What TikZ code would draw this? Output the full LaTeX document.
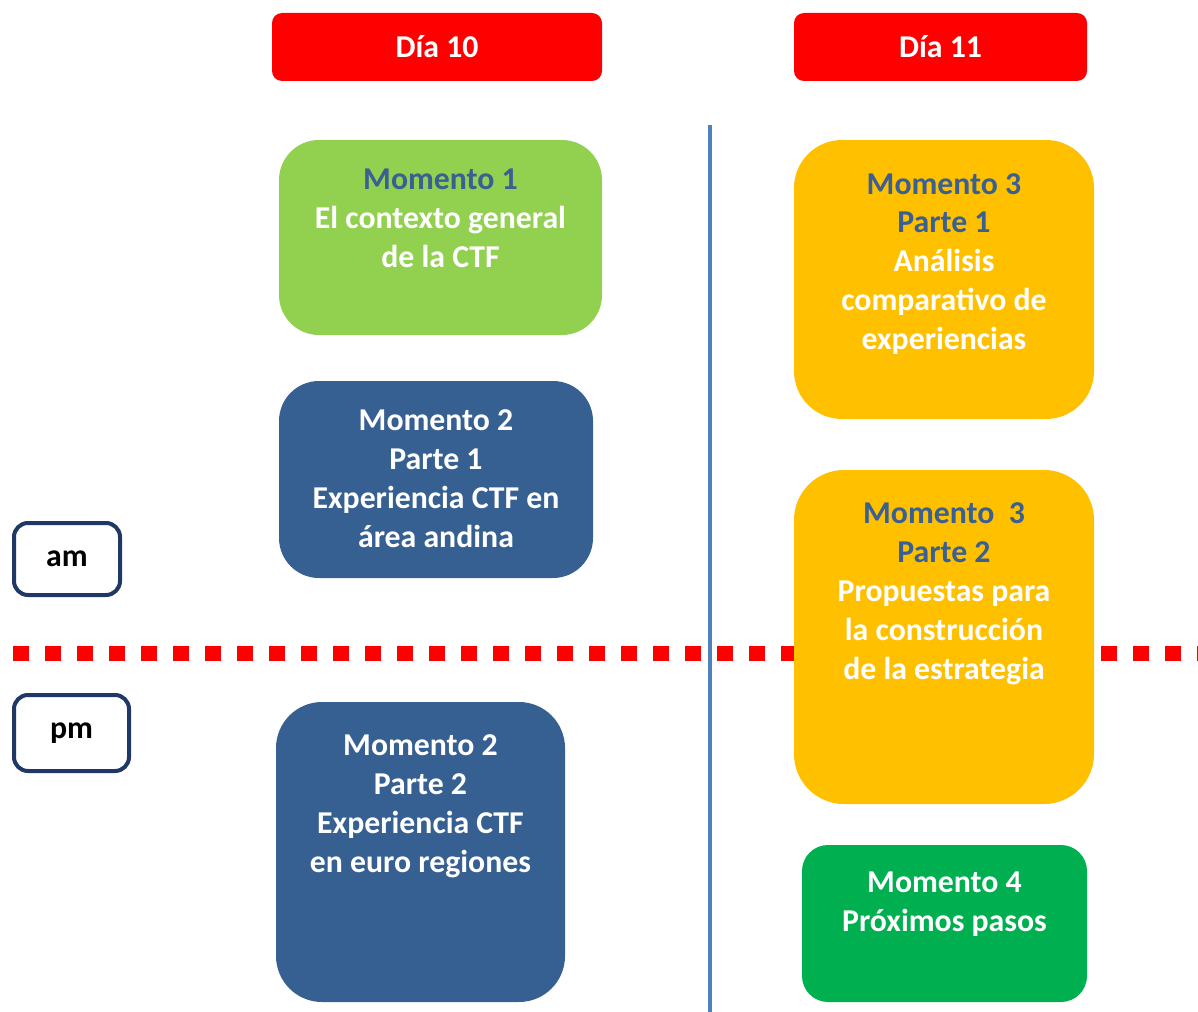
\documentclass[tikz,border=0pt]{standalone}
\usepackage{fontspec}
\setmainfont{Carlito}
\usepackage{xcolor}
\usepackage{tikz}
\usetikzlibrary{arrows.meta, positioning, calc}

\definecolor{dayred}{HTML}{FF0000}
\definecolor{lightgreen}{HTML}{92D050}
\definecolor{darkblue}{HTML}{376092}
\definecolor{gold}{HTML}{FFC000}
\definecolor{deepgreen}{HTML}{00B050}
\definecolor{navy}{HTML}{1F3864}
\definecolor{axisblue}{HTML}{4F81BD}
\definecolor{titleblue}{HTML}{3A5F93}

\newlength\pxu
\setlength\pxu{0.025cm}

\begin{document}
\begin{tikzpicture}[
    x=0.025cm, y=-0.025cm,
    daybox/.style={rectangle, rounded corners=10\pxu, fill=dayred, draw=none,
                   minimum height=68\pxu, text=white,
                   font=\fontsize{22.6}{27.7}\selectfont\bfseries},
    block/.style={rectangle, draw=none, inner sep=0pt},
    blocktext/.style={align=center, text=white, inner sep=0pt,
                      font=\fontsize{22.6}{27.7}\selectfont\bfseries},
    slot/.style={rectangle, rounded corners=14\pxu, draw=navy, line width=4\pxu,
                 fill=white, text=black,
                 font=\fontsize{22.6}{27.7}\selectfont\bfseries},
]
\useasboundingbox (0,0) rectangle (1198,1012);

% Day headers
\node[daybox, minimum width=330\pxu] (d10) at (437,47) {Día 10};
\node[daybox, minimum width=293\pxu] (d11) at (940.5,47) {Día 11};

% Morning / afternoon separator
\coordinate (sepL) at (13,653);
\coordinate (sepR) at (1198,653);
\draw[dayred, line width=15\pxu, dash pattern=on 16\pxu off 16\pxu] (sepL) -- (sepR);

% Day divider
\coordinate (divT) at (710,125);
\coordinate (divB) at (710,1012);
\draw[axisblue, line width=4\pxu] (divT) -- (divB);

% Momento 1
\node[block, fill=lightgreen, rounded corners=40\pxu,
      minimum width=323\pxu, minimum height=195\pxu] (m1) at (440.5,237.5) {};
\node[blocktext] (m1t) at ([yshift=19\pxu]m1.center) {
    \textcolor{titleblue}{Momento 1}\\
    El contexto general\\
    de la CTF
};

% Momento 2 - Parte 1
\node[block, fill=darkblue, rounded corners=40\pxu,
      minimum width=314\pxu, minimum height=197\pxu] (m2a) at (436,479.5) {};
\node[blocktext] (m2at) at ([yshift=1\pxu]m2a.center) {
    Momento 2\\
    Parte 1\\
    Experiencia CTF en\\
    área andina
};

% Momento 2 - Parte 2
\node[block, fill=darkblue, rounded corners=46\pxu,
      minimum width=289\pxu, minimum height=300\pxu] (m2b) at (420.5,852) {};
\node[blocktext] (m2bt) at ([yshift=45.5\pxu]m2b.center) {
    Momento 2\\
    Parte 2\\
    Experiencia CTF\\
    en euro regiones
};

% Momento 3 - Parte 1
\node[block, fill=gold, rounded corners=48\pxu,
      minimum width=300\pxu, minimum height=279\pxu] (m3a) at (944,279.5) {};
\node[blocktext] (m3at) at ([yshift=15.5\pxu]m3a.center) {
    \textcolor{titleblue}{Momento 3}\\
    \textcolor{titleblue}{Parte 1}\\
    Análisis\\
    comparativo de\\
    experiencias
};

% Momento 3 - Parte 2
\node[block, fill=gold, rounded corners=50\pxu,
      minimum width=300\pxu, minimum height=334\pxu] (m3b) at (944,637) {};
\node[blocktext] (m3bt) at ([yshift=43\pxu]m3b.center) {
    \textcolor{titleblue}{Momento\ \ 3}\\
    \textcolor{titleblue}{Parte 2}\\
    Propuestas para\\
    la construcción\\
    de la estrategia
};

% Momento 4
\node[block, fill=deepgreen, rounded corners=26\pxu,
      minimum width=285\pxu, minimum height=157\pxu] (m4) at (944.5,923.5) {};
\node[blocktext] (m4t) at ([yshift=19\pxu]m4.center) {
    Momento 4\\
    Próximos pasos
};

% Time slots
\node[slot, minimum width=106\pxu, minimum height=72\pxu] (am) at (67,559) {am};
\node[slot, minimum width=115\pxu, minimum height=76\pxu] (pm) at (71.5,733) {pm};

\end{tikzpicture}
\end{document}
